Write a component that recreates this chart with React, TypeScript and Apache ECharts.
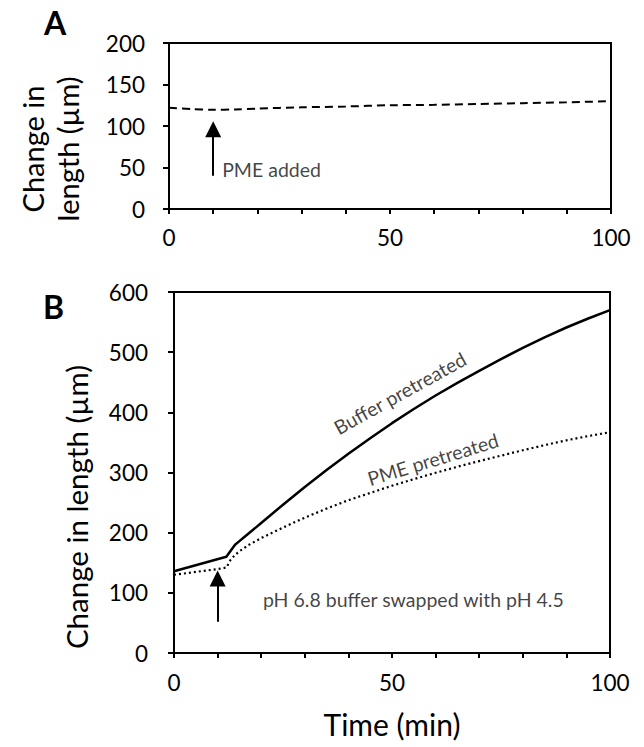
import React, { useEffect, useRef } from "react";
import * as echarts from "echarts";

// Panel A: PME added
const timeA = [0, 5, 10, 15, 20, 30, 40, 50, 60, 70, 80, 90, 100];
const lengthA = [122, 120.5, 119.5, 120, 121, 122.5, 123.5, 125, 125.5, 126.5, 127.5, 128.5, 130];

// Panel B: buffer pretreated (solid)
const timeBuffer = [0, 12, 13, 14, 15, 16, 18, 20, 25, 30, 35, 40, 45, 50, 55, 60, 65, 70, 75, 80, 85, 90, 95, 100];
const lengthBuffer = [136, 160, 170, 180, 186, 192, 204, 216, 246.5, 276, 304, 331, 357, 382, 405.5, 428, 449, 469, 488.5, 507, 524.5, 541, 556, 570];

// Panel B: PME pretreated (dotted)
const timePme = [0, 10, 12, 13, 14, 15, 17, 20, 25, 30, 35, 40, 45, 50, 55, 60, 65, 70, 75, 80, 85, 90, 95, 100];
const lengthPme = [130, 139.5, 142, 155, 163, 169, 179, 191, 208.5, 225, 240, 254, 266, 278, 289, 299.5, 309.5, 319, 328, 337, 345.5, 353.5, 360.5, 367];

const xTickLabels = [0, 50, 100];
const yTicksA = [0, 50, 100, 150, 200];
const yTicksB = [0, 100, 200, 300, 400, 500, 600];

// arrows: [time, from value, to value]
const arrowA = [10, 40, 96];
const arrowB = [10, 52, 124];

// text annotations
const notesA = [{ text: "PME added", t: 23.2, v: 47, rotate: 0 }];
const notesB = [
  { text: "pH 6.8 buffer swapped with pH 4.5", t: 54.9, v: 89.7, rotate: 0 },
  { text: "Buffer pretreated", t: 51.8, v: 432, rotate: 29 },
  { text: "PME pretreated", t: 59.4, v: 322, rotate: 17 },
];

const FONT = "Lato, 'Open Sans', sans-serif";

export default function App() {
  const ref = useRef<HTMLDivElement>(null);
  useEffect(() => {
    if (!ref.current) return;
    const chart = echarts.init(ref.current, undefined, { renderer: "svg" });
    const axisLine = { show: true, lineStyle: { color: "#000", width: 2 } };
    const axisTick = { show: true, inside: false, length: 6, lineStyle: { color: "#000", width: 2 } };
    const xAxisBase = (gridIndex: number, margin: number) => ({
      gridIndex,
      type: "value",
      min: 0,
      max: 100,
      interval: 10,
      axisLine,
      axisTick: { ...axisTick, length: 5 },
      splitLine: { show: false },
      axisLabel: {
        color: "#000",
        fontSize: 22.5,
        fontFamily: FONT,
        margin,
        formatter: (v: number) => (xTickLabels.includes(v) ? String(v) : ""),
      },
    });
    const yAxisBase = (gridIndex: number, max: number, interval: number, ticks: number[], margin: number) => ({
      gridIndex,
      type: "value",
      min: 0,
      max,
      interval,
      axisLine,
      axisTick,
      splitLine: { show: false },
      axisLabel: {
        color: "#000",
        fontSize: 22.5,
        fontFamily: FONT,
        margin,
        formatter: (v: number) => (ticks.includes(v) ? String(v) : ""),
      },
    });
    const noteSeries = (idx: number, notes: any[]) => ({
      type: "scatter",
      xAxisIndex: idx,
      yAxisIndex: idx,
      symbolSize: 0,
      silent: true,
      label: {
        show: true,
        position: "inside",
        color: "#111",
        fontSize: 19.5,
        fontFamily: FONT,
        formatter: "{b}",
      },
      data: notes.map((n) => ({ name: n.text, value: [n.t, n.v], label: { rotate: n.rotate } })),
    });
    const arrowMark = (a: number[]) => ({
      silent: true,
      symbol: ["none", "triangle"],
      symbolSize: [16, 16],
      lineStyle: { color: "#000", width: 2, type: "solid" },
      label: { show: false },
      emphasis: { disabled: true },
      data: [[{ coord: [a[0], a[1]] }, { coord: [a[0], a[2]] }]],
    });
    chart.setOption({
      animation: false,
      backgroundColor: "#fff",
      textStyle: { fontFamily: FONT },
      grid: [
        { left: 169, top: 43, width: 442, height: 166, show: true, borderColor: "#000", borderWidth: 2 },
        { left: 174, top: 292, width: 436, height: 361, show: true, borderColor: "#000", borderWidth: 2 },
      ],
      xAxis: [
        xAxisBase(0, 17),
        {
          ...xAxisBase(1, 18),
          name: "Time (min)",
          nameLocation: "middle",
          nameGap: 56,
          nameTextStyle: { color: "#000", fontSize: 30, fontFamily: FONT },
        },
      ],
      yAxis: [yAxisBase(0, 200, 50, yTicksA, 24), yAxisBase(1, 600, 100, yTicksB, 26)],
      graphic: [
        { type: "text", left: 44, top: 6, style: { text: "A", fontSize: 32, fontWeight: "bold", fontFamily: FONT, fill: "#000" } },
        { type: "text", left: 43, top: 290, style: { text: "B", fontSize: 32, fontWeight: "bold", fontFamily: FONT, fill: "#000" } },
        {
          type: "text",
          x: 50,
          y: 149,
          rotation: Math.PI / 2,
          style: {
            text: "Change in\nlength (µm)",
            fontSize: 29,
            lineHeight: 35,
            fontFamily: FONT,
            fill: "#000",
            align: "center",
            verticalAlign: "middle",
          },
        },
        {
          type: "text",
          x: 76,
          y: 507,
          rotation: Math.PI / 2,
          style: {
            text: "Change in length (µm)",
            fontSize: 29.5,
            fontFamily: FONT,
            fill: "#000",
            align: "center",
            verticalAlign: "middle",
          },
        },
      ],
      series: [
        {
          type: "line",
          xAxisIndex: 0,
          yAxisIndex: 0,
          showSymbol: false,
          smooth: 0.3,
          data: timeA.map((t, i) => [t, lengthA[i]]),
          lineStyle: { color: "#000", width: 2, type: [8, 5] },
          markLine: arrowMark(arrowA),
        },
        {
          type: "line",
          xAxisIndex: 1,
          yAxisIndex: 1,
          showSymbol: false,
          data: timeBuffer.map((t, i) => [t, lengthBuffer[i]]),
          lineStyle: { color: "#000", width: 2.5, type: "solid" },
          markLine: arrowMark(arrowB),
        },
        {
          type: "line",
          xAxisIndex: 1,
          yAxisIndex: 1,
          showSymbol: false,
          data: timePme.map((t, i) => [t, lengthPme[i]]),
          lineStyle: { color: "#000", width: 2.2, type: [2, 3] },
        },
        noteSeries(0, notesA),
        noteSeries(1, notesB),
      ],
    });
    return () => chart.dispose();
  }, []);
  return (
    <div
      ref={ref}
      style={{ position: "absolute", left: 0, top: 0, width: 644, height: 747 }}
    />
  );
}
